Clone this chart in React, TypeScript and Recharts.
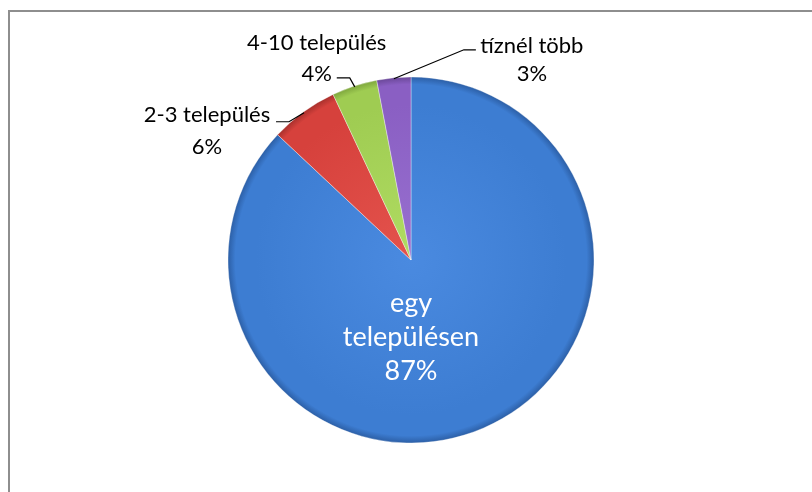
import { PieChart, Pie, Cell } from "recharts";

// chart data
const categories = ["egy településen", "2-3 település", "4-10 település", "tíznél több"];
const percents = [87, 6, 4, 3];
const labelText = [["egy", "településen"], ["2-3 település"], ["4-10 település"], ["tíznél több"]];

// slice colours: [light, base, dark]
const sliceColors = [
  ["#4a8ae0", "#3d7dd2", "#2c5fa6"],
  ["#e4534d", "#d6413c", "#a8302c"],
  ["#b0dc62", "#9fcc52", "#7ea63d"],
  ["#9870d0", "#8a5fc3", "#6a4798"],
];

// label placement relative to the slice edge point (outside labels) or pie centre (inside)
const labelLayout = [
  { inside: true, lines: [41, 75, 109] },
  { elbow: [-15, 9], end: [-28, 9], text: [-97, 1, 33] },
  { elbow: [-5, -9], end: [-18, -9], text: [-38, -45, -14] },
  { elbow: [70, -29], end: [82, -29], text: [138, -34, -6] },
];

const data = categories.map((name, i) => ({ name, value: percents[i] }));

const FONT = "Lato, 'Open Sans', sans-serif";
const FONT_SIZE = 22;
const INSIDE_FONT_SIZE = 27;
const RAD = Math.PI / 180;

function renderLabel(props: any) {
  const { cx, cy, midAngle, outerRadius, index, value } = props;
  const cfg: any = labelLayout[index];
  if (cfg.inside) {
    const rows = [...labelText[index], `${value}%`];
    return (
      <g>
        {rows.map((t, i) => (
          <text key={i} x={cx} y={cy + cfg.lines[i]} textAnchor="middle" dominantBaseline="central"
            fill="#ffffff" fontSize={INSIDE_FONT_SIZE} fontFamily={FONT}>
            {t}
          </text>
        ))}
      </g>
    );
  }
  const r = outerRadius - 1;
  const ex = cx + r * Math.cos(-midAngle * RAD);
  const ey = cy + r * Math.sin(-midAngle * RAD);
  const pts = [
    [ex, ey],
    [ex + cfg.elbow[0], ey + cfg.elbow[1]],
    [ex + cfg.end[0], ey + cfg.end[1]],
  ];
  return (
    <g>
      <polyline points={pts.map((p) => p.join(",")).join(" ")} fill="none" stroke="#000" strokeWidth={1.2} />
      <text x={ex + cfg.text[0]} y={ey + cfg.text[1]} textAnchor="middle" dominantBaseline="central"
        fill="#000" fontSize={FONT_SIZE} fontFamily={FONT}>
        {labelText[index][0]}
      </text>
      <text x={ex + cfg.text[0]} y={ey + cfg.text[2]} textAnchor="middle" dominantBaseline="central"
        fill="#000" fontSize={FONT_SIZE} fontFamily={FONT}>
        {`${value}%`}
      </text>
    </g>
  );
}

export default function App() {
  const cx = 403;
  const cy = 252;
  const radius = 183;
  return (
    <div style={{ position: "relative", width: 796, height: 476 }}>
      {/* chart frame: only its left and top edges fall inside the window */}
      <div
        style={{
          position: "fixed",
          left: 8,
          top: 10,
          width: 2000,
          height: 2000,
          borderLeft: "2px solid #8e8e8e",
          borderTop: "2px solid #8e8e8e",
          boxSizing: "border-box",
        }}
      />
      <div style={{ position: "absolute", left: 0, top: 0 }}>
        <PieChart width={796} height={476} margin={{ top: 0, right: 0, bottom: 0, left: 0 }}>
          <defs>
            {sliceColors.map((c, i) => (
              <radialGradient key={i} id={`slice${i}`} gradientUnits="userSpaceOnUse" cx={cx} cy={cy} r={radius}>
                <stop offset="0%" stopColor={c[0]} />
                <stop offset="85%" stopColor={c[1]} />
                <stop offset="96%" stopColor={c[1]} />
                <stop offset="100%" stopColor={c[2]} />
              </radialGradient>
            ))}
          </defs>
          <Pie
            data={data}
            dataKey="value"
            nameKey="name"
            cx={cx}
            cy={cy}
            outerRadius={radius}
            startAngle={90}
            endAngle={-270}
            isAnimationActive={false}
            label={renderLabel}
            labelLine={false}
            stroke="#ffffff"
            strokeOpacity={0.35}
            strokeWidth={1}
          >
            {data.map((entry, index) => (
              <Cell key={`cell-${index}`} fill={`url(#slice${index})`} />
            ))}
          </Pie>
        </PieChart>
      </div>
    </div>
  );
}
